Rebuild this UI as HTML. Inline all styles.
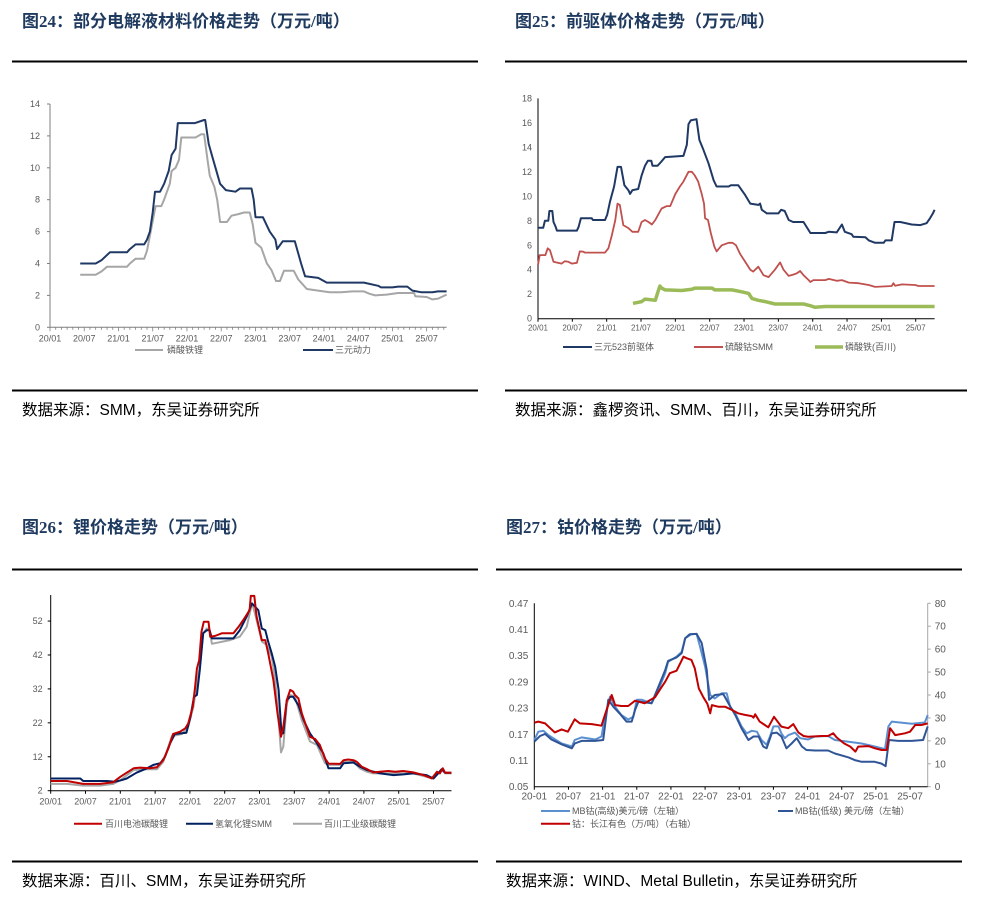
<!DOCTYPE html>
<html><head><meta charset="utf-8">
<style>
body{margin:0;background:#fff;width:987px;height:909px;overflow:hidden;font-family:"Liberation Sans","Noto Sans CJK SC",sans-serif;}
svg{display:block}
.title{font-family:"Liberation Serif","Noto Sans CJK SC",sans-serif;font-weight:bold;font-size:17px;fill:#1f3a5f}
.src{font-size:15.5px;fill:#000}
.tk{font-size:9px;fill:#595959}
.tk2{font-size:10px;fill:#595959}
.lg{font-size:9px;fill:#595959}
</style></head>
<body>
<svg id="s" width="987" height="909" xmlns="http://www.w3.org/2000/svg">
<text class="title" x="22" y="27">图24：部分电解液材料价格走势（万元/吨）</text>
<text class="title" x="515" y="27">图25：前驱体价格走势（万元/吨）</text>
<text class="title" x="22" y="533">图26：锂价格走势（万元/吨）</text>
<text class="title" x="506" y="533">图27：钴价格走势（万元/吨）</text>
<rect x="12" y="60.5" width="466" height="2" fill="#000"/>
<rect x="505" y="60.5" width="462" height="2" fill="#000"/>
<rect x="12" y="389.5" width="466" height="2" fill="#000"/>
<rect x="505" y="389.5" width="462" height="2" fill="#000"/>
<rect x="12" y="568.5" width="466" height="2" fill="#000"/>
<rect x="496" y="568.5" width="466" height="2" fill="#000"/>
<rect x="12" y="860.5" width="466" height="2" fill="#000"/>
<rect x="496" y="860.5" width="466" height="2" fill="#000"/>
<text class="src" x="22" y="415">数据来源：SMM，东吴证券研究所</text>
<text class="src" x="515" y="415">数据来源：鑫椤资讯、SMM、百川，东吴证券研究所</text>
<text class="src" x="22" y="886">数据来源：百川、SMM，东吴证券研究所</text>
<text class="src" x="506" y="886">数据来源：WIND、Metal Bulletin，东吴证券研究所</text>
</svg>
<script>
// ---- shared x-axis labels ----
const dateTicks = ["20/01","20/07","21/01","21/07","22/01","22/07","23/01","23/07","24/01","24/07","25/01","25/07"];
const dateTicksDash = ["20-01","20-07","21-01","21-07","22-01","22-07","23-01","23-07","24-01","24-07","25-01","25-07"];
// ---- chart 24 ----
const c24Ticks = [0,2,4,6,8,10,12,14];
const c24NcmT = [5.3,8,9,10.5,13.5,14,15,16.5,17,17.5,18,18.4,19.3,20,20.8,21.3,22,22.4,25.4,27,27.2,27.8,28.6,29.8,30.8,32.5,33.3,35.3,35.7,36,37.3,38.5,39.5,39.8,40.8,42.9,44,44.7,47,48.5,52,55,57.5,58,60,61,62.6,63.5,65,67,68,69.5];
const c24NcmV = [4.0,4.0,4.2,4.7,4.7,4.9,5.2,5.2,5.5,6.0,7.2,8.5,8.5,9.0,9.8,10.8,11.2,12.8,12.8,13,13,11.5,10.5,9.0,8.6,8.5,8.7,8.7,8.0,6.9,6.9,6.0,5.5,4.9,5.4,5.4,4.0,3.2,3.1,2.8,2.8,2.8,2.6,2.5,2.5,2.55,2.55,2.3,2.2,2.2,2.25,2.25];
const c24LfpT = [5.3,8,9,10,13.5,14,15,16.5,17,17.8,18.5,19.5,20,21,21.3,22,22.6,23,25.5,26.5,27,27.6,28,28.8,29.3,29.8,31,31.8,33,34,35,35.5,36,37,38,38.8,39.6,40.3,41,42.7,43.5,44,45,47,49,51,53,55,56,57,59,61,63.8,64,66,67,68,69.5];
const c24LfpV = [3.3,3.3,3.5,3.8,3.8,4.0,4.3,4.3,4.8,6.3,7.6,7.6,8.0,9.0,9.8,10,10.5,11.9,11.9,12.1,12.1,10.5,9.5,8.8,8.0,6.6,6.6,7.0,7.1,7.2,7.2,6.5,5.3,5.0,4.0,3.6,2.9,2.9,3.55,3.55,3.0,2.8,2.4,2.3,2.2,2.2,2.25,2.25,2.1,2.0,2.05,2.15,2.15,1.95,1.9,1.75,1.8,2.05];
// ---- chart 25 ----
const c25Ticks = [0,2,4,6,8,10,12,14,16,18];
const c25NcmT = [0,0.9,1.2,1.8,2.0,2.5,2.7,3.1,3.3,6.8,7.1,7.5,9.4,9.6,11.7,12.1,12.6,13.3,13.9,14.5,15.1,15.8,16.1,16.5,17.5,18.1,18.7,19.2,19.8,20,20.9,21.5,22.2,25.4,26,26.3,26.7,27.7,28.2,28.9,29.8,30.7,31.2,33.3,33.7,35,36.2,37.1,38.5,38.8,39.1,40,42,42.5,43.1,43.8,44.6,46.4,47.6,50.2,50.8,52.2,53.1,53.6,54.8,55.1,57.2,57.8,58.9,60.4,60.7,61.8,62.3,63.3,65.3,66.8,67.9,68.5,69,69.3];
const c25NcmV = [7.43,7.43,8.0,8.0,8.8,8.8,7.9,7.5,7.2,7.2,7.5,8.2,8.2,8.06,8.06,8.5,9.6,10.8,12.4,12.4,10.9,10.5,10.2,10.5,10.6,11.7,12.5,12.9,12.9,12.5,12.5,12.8,13.2,13.3,14.2,15.9,16.2,16.3,14.6,13.8,12.7,11.3,10.8,10.8,10.9,10.9,10.1,9.4,9.3,9.4,8.9,8.6,8.6,8.9,8.8,8.06,7.9,7.9,7.0,7.0,7.1,7.05,7.7,7.1,6.9,6.7,6.65,6.4,6.2,6.2,6.4,6.4,7.9,7.9,7.7,7.65,7.8,8.2,8.6,8.9];
const c25CoT = [0,0.3,1.3,1.7,2.1,2.7,4.1,4.7,5.3,5.9,6.8,7.3,7.9,8.2,11.7,12.3,12.9,13.5,13.9,14.3,14.9,15.8,16.5,17.5,18.1,18.7,19.3,19.9,20.5,21,21.6,22.5,23.1,24,24.8,25.4,26.3,26.9,27.4,28,28.6,29,29.2,29.7,30.2,30.8,31.2,32.1,33.3,34,34.6,35.3,36.2,37.1,37.6,38.5,39.4,40.3,41.4,42.3,42.9,43.8,44.6,45.2,45.8,46.4,47.3,47.6,48.1,50.2,50.8,52.2,53.1,54.3,56,57.8,58.9,61.8,62.1,62.4,63.6,65.9,66.5,69.3];
const c25CoV = [4.4,5.2,5.2,5.75,5.6,4.65,4.5,4.7,4.65,4.5,4.57,5.5,5.47,5.4,5.4,5.75,6.8,8.06,9.4,9.3,7.65,7.4,7.1,7.1,7.9,8.06,7.9,7.7,8.06,8.5,9.0,9.2,9.2,10.2,10.8,11.2,12.0,12.0,11.7,11.2,10.2,9.4,8.2,8.06,7.0,5.9,5.5,6.0,6.2,6.2,6.0,5.3,4.65,4.0,3.85,4.25,3.55,3.4,4.0,4.6,4.0,3.5,3.6,3.7,3.9,3.55,3.15,3.0,3.15,3.15,3.25,3.1,3.15,2.95,2.9,2.75,2.6,2.67,2.9,2.7,2.8,2.75,2.67,2.67];
const c25FeT = [16.6,18.1,18.7,20.5,20.9,21.3,21.6,22.2,25.1,26.9,27.4,30.4,30.9,33.9,35.6,36.8,37.4,38.5,39.7,41.4,46.4,47.8,48.4,50.2,69.3];
const c25FeV = [1.25,1.4,1.6,1.5,2.1,2.67,2.5,2.35,2.3,2.4,2.5,2.5,2.35,2.35,2.2,2.07,1.65,1.5,1.4,1.2,1.2,1.03,0.93,1.0,1.0];
// ---- chart 26 ----
const c26Ticks = [2,12,22,32,42,52];
const c26BatT = [0,2.8,5.6,8.5,10.8,12,13.1,14.3,15.4,17.1,18.3,19.4,20.3,21.1,22.3,23.2,23.7,24.5,24.9,25.2,25.6,26,26.4,27.2,27.5,28.3,29.5,31.5,32.4,33.2,34.3,34.5,35.1,35.5,36.4,37,37.5,38.4,39.1,39.7,40.1,40.7,41.3,41.8,42.1,42.7,43.3,43.9,44.7,45.6,46.4,47.3,47.9,49.9,50.5,51.3,52.2,52.8,53.6,54.5,55.6,56.8,58.2,59.4,60.8,62.5,64.3,65.7,66.6,67.1,67.6,68,69.1];
const c26BatV = [4.85,4.85,4.0,4.0,4.5,6.1,7.3,8.6,8.8,8.6,8.9,11.0,14.5,18.7,19.4,20.4,21.8,26.8,32.6,38.0,40.5,48.9,51.8,51.8,47.4,47.6,48.4,48.4,50.3,52.3,55.2,59.4,59.4,53.3,46.4,46.4,42.5,34.6,24.8,17.9,20.9,28.7,31.7,31.2,30.2,29.2,24.8,21.8,17.9,17.2,15.5,11.5,10.0,9.9,11.0,11.2,11.0,10.5,9.1,8.4,7.4,7.6,7.8,7.6,7.8,7.4,6.6,5.6,7.6,7.1,8.6,7.3,7.3];
const c26OhT = [0,5.1,5.6,9.7,11.1,12.2,13.1,14.8,16.6,17.7,18.9,19.7,20.6,21.4,23.4,24.1,24.7,25.2,25.7,26.3,26.9,27.4,27.8,31.5,32.6,33.8,34.7,35.8,36.4,37,37.5,38.1,38.7,39.3,39.8,40.1,40.7,41.3,41.8,42.7,43.6,44.7,45.9,47,47.9,49.9,50.5,52.2,53.3,54.5,56.8,59.1,60.8,62.5,64.8,66,66.8,67.4,68,69.1];
const c26OhV = [5.6,5.6,4.85,4.85,4.65,5.1,5.6,7.3,8.6,9.6,10.1,12.0,16.0,18.7,19.1,23.8,29.7,30.2,37.6,48.4,49.3,49.3,46.9,46.9,49.3,53.3,57.2,55.2,49.8,49.3,45.9,42.5,38.5,31.7,18.9,18.9,28.7,29.7,29.7,27.2,22.8,18.9,16.0,13.0,8.6,8.6,10.1,10.3,9.1,8.1,7.1,6.6,6.8,7.1,6.6,5.6,7.1,8.3,7.3,7.3];
const c26IndT = [0,2.8,5.6,8.5,10.8,12,14.3,16.6,18.3,19.4,20.9,22.6,23.7,24.6,25.3,25.7,26.3,26.9,27.4,27.8,30.9,32.6,33.8,34.7,35.2,36.4,37.2,38.1,38.7,39.3,39.7,40.1,40.7,41.3,42.1,43.3,44.7,45.9,47.3,47.9,49.9,50.5,52.2,53.3,54.5,55.6,62.5,64.8,66,66.8,67.4,68,69.1];
const c26IndV = [4.0,4.0,3.5,3.5,4.0,5.1,8.1,8.3,8.3,10.5,18.1,18.7,20.9,26.8,34.6,38.7,48.4,49.8,49.5,45.3,46.4,47.4,50.3,57.2,54.3,46.0,45.0,41.5,34.6,22.8,13.3,15.0,27.7,30.2,29.7,22.8,16.5,15.5,10.1,9.6,9.6,10.5,10.5,8.6,7.6,7.1,7.1,6.1,5.6,7.1,8.3,7.1,7.1];
// ---- chart 27 ----
const c27LeftTicks = [0.05,0.11,0.17,0.23,0.29,0.35,0.41,0.47];
const c27RightTicks = [0,10,20,30,40,50,60,70,80];
const c27HiT = [0,0.7,1.6,2.5,4.8,6.6,7.1,8.3,10.7,11.8,12.4,13.3,14.2,15.3,16.5,17.4,18,18.9,20.6,21.8,23,23.5,25,25.9,26.5,27.6,28.5,29.1,30,30.9,31.7,32.9,33.8,34.4,35.3,36.4,37.3,38.2,39.1,39.9,40.8,41.4,42,42.9,43.4,44,44.6,45.8,46.7,48.1,49.3,51.6,52.8,55.2,57.5,59.8,61.6,62.2,62.8,64.2,66.3,68.6,69.1];
const c27HiV = [0.157,0.176,0.178,0.168,0.149,0.142,0.157,0.163,0.158,0.165,0.210,0.256,0.233,0.214,0.204,0.210,0.249,0.249,0.241,0.272,0.310,0.336,0.348,0.359,0.390,0.399,0.400,0.371,0.325,0.260,0.252,0.264,0.264,0.233,0.218,0.188,0.172,0.178,0.176,0.157,0.146,0.165,0.188,0.188,0.172,0.161,0.168,0.174,0.161,0.158,0.165,0.166,0.157,0.153,0.149,0.142,0.136,0.188,0.199,0.197,0.194,0.197,0.214];
const c27LoT = [0,1,1.9,3.0,4.8,6.6,7.1,8.3,10.7,12.1,13,13.9,15.1,16.2,17.1,17.7,18.3,19.4,20.6,21.8,23,23.5,25,25.9,26.5,27.3,28.5,29.4,30.3,30.7,31.7,33.2,34.1,35.3,36.4,37.6,38.5,39.4,40.2,40.8,41.7,42.6,43.4,44.3,45.2,46.1,47,47.8,49.3,51.6,52.8,55.2,56.3,57.5,59.8,61,61.7,62.3,63.9,66.3,68.3,69.1];
const c27LoV = [0.153,0.166,0.171,0.158,0.147,0.138,0.149,0.155,0.155,0.157,0.249,0.233,0.216,0.199,0.199,0.226,0.245,0.243,0.241,0.279,0.317,0.338,0.346,0.356,0.390,0.399,0.400,0.379,0.317,0.249,0.260,0.262,0.241,0.214,0.184,0.157,0.165,0.165,0.142,0.138,0.172,0.174,0.165,0.138,0.149,0.161,0.142,0.134,0.133,0.133,0.126,0.117,0.111,0.107,0.107,0.103,0.097,0.157,0.155,0.155,0.157,0.188];
const c27CjT = [0,0.7,1.9,2.8,3.6,4.8,5.9,7.1,8,10.1,11.8,12.4,13.6,14.2,15.3,16.5,17.7,19.4,21.2,22.1,23,23.8,25,26.2,26.8,27.6,28.2,28.9,29.7,30.4,30.9,31.2,32.3,33.5,34.7,35.8,37,38.2,38.5,38.8,39.6,41.1,42.1,43.4,44.6,45.5,46.4,47.3,48.1,50.5,51.6,52.5,53.1,54.4,55.5,56.4,56.9,58.7,59.9,61,61.9,62.5,63.4,65.1,66,66.9,68,69.1];
const c27CjV = [27.9,28.4,27.6,25.5,23.7,25.0,24.0,29.4,27.6,27.3,26.6,31.3,40.0,35.6,35.2,35.2,37.5,36.4,39.0,42.5,45.8,49.5,50.6,56.7,56.0,55.3,51.6,42.9,39.0,36.1,32.0,35.6,34.9,34.9,33.5,32.0,31.3,30.8,30.1,31.6,28.4,25.9,30.5,26.2,25.5,27.3,23.6,22.1,21.8,22.1,22.1,23.3,21.5,18.9,17.5,15.3,17.5,17.7,16.7,16.0,16.0,25.5,22.5,23.3,24.0,26.9,26.9,27.6];

const NS="http://www.w3.org/2000/svg";
const svg=document.getElementById('s');
function mk(tag,attrs,parent){const e=document.createElementNS(NS,tag);for(const k in attrs)e.setAttribute(k,attrs[k]);(parent||svg).appendChild(e);return e;}
function txt(str,x,y,cls,anchor,parent){const e=mk('text',{x:x,y:y,class:cls,'text-anchor':anchor||'start'},parent);e.textContent=str;return e;}
function line(ts,vs,sx,sy,color,w,g){let d='';for(let i=0;i<ts.length;i++){d+=(i?'L':'M')+sx(ts[i]).toFixed(1)+' '+sy(vs[i]).toFixed(1);}return mk('path',{d:d,fill:'none',stroke:color,'stroke-width':w,'stroke-linejoin':'round'},g);}

// ===== Chart 24 =====
(function(){
 const g=mk('g',{});
 
 
 const x0=50,mx=5.707,y0=327.3,ky=15.95;
 const sx=t=>x0+t*mx, sy=v=>y0-v*ky;
 mk('line',{x1:x0,y1:sy(14),x2:x0,y2:y0,stroke:'#7f7f7f','stroke-width':1},g);
 mk('line',{x1:x0,y1:y0,x2:sx(69.5),y2:y0,stroke:'#7f7f7f','stroke-width':1},g);
 c24Ticks.forEach(v=>{mk('line',{x1:x0-3,y1:sy(v),x2:x0,y2:sy(v),stroke:'#7f7f7f'},g);const e=txt(String(v),x0-10,sy(v)+3,'tk','end',g);});
 for(let m=0;m<=69;m++){mk('line',{x1:sx(m),y1:y0,x2:sx(m),y2:y0+(m%6==0?4:2.5),stroke:'#7f7f7f','stroke-width':0.8},g);}
 dateTicks.forEach((s,i)=>{const e=txt(s,sx(i*6),y0+14,'tk','middle',g);});
 const l1=line(c24LfpT,c24LfpV,sx,sy,'#a6a6a6',2,g);
 
 const l2=line(c24NcmT,c24NcmV,sx,sy,'#1f3864',2,g);
 
 mk('line',{x1:135,y1:350,x2:163,y2:350,stroke:'#a6a6a6','stroke-width':2},g);
 const a=txt('磷酸铁锂',167,353,'lg','start',g);
 mk('line',{x1:303,y1:350,x2:333,y2:350,stroke:'#1f3864','stroke-width':2},g);
 const b=txt('三元动力',335,353,'lg','start',g);
})();

// ===== Chart 25 =====
(function(){
 const g=mk('g',{});
 
 
 const x0=538,mx=5.723,y0=318.7,ky=12.24;
 const sx=t=>x0+t*mx, sy=v=>y0-v*ky;
 mk('line',{x1:x0,y1:sy(18),x2:x0,y2:y0,stroke:'#000','stroke-width':1},g);
 mk('line',{x1:x0,y1:y0,x2:sx(69.3),y2:y0,stroke:'#000','stroke-width':1},g);
 c25Ticks.forEach(v=>{const e=txt(String(v),x0-6,sy(v)+3,'tk','end',g);});
 dateTicks.forEach((s,i)=>{mk('line',{x1:sx(i*6),y1:y0,x2:sx(i*6),y2:y0+3,stroke:'#000'},g);const e=txt(s,sx(i*6),y0+12,'tk','middle',g);e.setAttribute('style','font-size:8px');});
 const a=line(c25FeT,c25FeV,sx,sy,'#9bbb59',3.5,g);
 const b=line(c25CoT,c25CoV,sx,sy,'#c0504d',1.8,g);
 const c=line(c25NcmT,c25NcmV,sx,sy,'#1f3864',2,g);
 mk('line',{x1:563,y1:347,x2:592,y2:347,stroke:'#1f3864','stroke-width':2},g);
 let t=txt('三元523前驱体',594,350,'lg','start',g);
 mk('line',{x1:694,y1:347,x2:723,y2:347,stroke:'#c0504d','stroke-width':2},g);
 t=txt('硫酸钴SMM',725,350,'lg','start',g);
 mk('line',{x1:815,y1:347,x2:843,y2:347,stroke:'#9bbb59','stroke-width':3.5},g);
 t=txt('磷酸铁(百川)',845,350,'lg','start',g);
})();

// ===== Chart 26 =====
(function(){
 const g=mk('g',{});
 
 
 const x0=50.7,mx=5.8,y0=790.7,ky=3.393;
 const sx=t=>x0+t*mx, sy=v=>y0-(v-2)*ky;
 mk('line',{x1:x0,y1:595,x2:x0,y2:y0,stroke:'#000','stroke-width':1},g);
 mk('line',{x1:x0,y1:y0,x2:sx(69.1),y2:y0,stroke:'#000','stroke-width':1},g);
 c26Ticks.forEach(v=>{mk('line',{x1:x0-3,y1:sy(v),x2:x0,y2:sy(v),stroke:'#000'},g);const e=txt(String(v),x0-8,sy(v)+3,'tk','end',g);});
 dateTicks.forEach((s,i)=>{mk('line',{x1:sx(i*6),y1:y0,x2:sx(i*6),y2:y0+3,stroke:'#000'},g);const e=txt(s,sx(i*6),y0+14,'tk','middle',g);});
 const a=line(c26IndT,c26IndV,sx,sy,'#a6a6a6',2,g);
 const b=line(c26OhT,c26OhV,sx,sy,'#002060',2,g);
 const c=line(c26BatT,c26BatV,sx,sy,'#c00000',2,g);
 mk('line',{x1:74,y1:823.7,x2:102,y2:823.7,stroke:'#c00000','stroke-width':2},g);
 let t=txt('百川电池碳酸锂',105,827,'lg','start',g);
 mk('line',{x1:186,y1:823.7,x2:213,y2:823.7,stroke:'#002060','stroke-width':2},g);
 t=txt('氢氧化锂SMM',215,827,'lg','start',g);
 mk('line',{x1:293,y1:823.7,x2:322,y2:823.7,stroke:'#a6a6a6','stroke-width':2},g);
 t=txt('百川工业级碳酸锂',324,827,'lg','start',g);
})();

// ===== Chart 27 =====
(function(){
 const g=mk('g',{});
 
 
 const x0=534.3,mx=5.693,y0=786.7,ytop=603.3,xr=927.7;
 const sx=t=>x0+t*mx, syl=v=>y0-(v-0.05)/0.42*(y0-ytop), syr=v=>y0-v/80*(y0-ytop);
 mk('line',{x1:x0,y1:ytop,x2:x0,y2:y0,stroke:'#000','stroke-width':1},g);
 mk('line',{x1:xr,y1:ytop,x2:xr,y2:y0,stroke:'#a6a6a6','stroke-width':1},g);
 mk('line',{x1:x0,y1:y0,x2:xr,y2:y0,stroke:'#000','stroke-width':1},g);
 c27LeftTicks.forEach(v=>{const e=txt(v.toFixed(2),x0-6,syl(v)+3.5,'tk2','end',g);});
 c27RightTicks.forEach(v=>{mk('line',{x1:xr,y1:syr(v),x2:xr+3,y2:syr(v),stroke:'#a6a6a6'},g);const e=txt(String(v),xr+7,syr(v)+3.5,'tk2','start',g);});
 dateTicksDash.forEach((s,i)=>{mk('line',{x1:sx(i*6),y1:y0,x2:sx(i*6),y2:y0+3,stroke:'#000'},g);const e=txt(s,sx(i*6),y0+13,'tk2','middle',g);});
 const a=line(c27HiT,c27HiV,sx,syl,'#5b8fd0',2,g);
 const b=line(c27LoT,c27LoV,sx,syl,'#2f5597',2,g);
 const c=line(c27CjT,c27CjV,sx,syr,'#c00000',2,g);
 mk('line',{x1:541,y1:811,x2:570,y2:811,stroke:'#5b8fd0','stroke-width':2},g);
 let t=txt('MB钴(高级)美元/磅（左轴）',572,814,'lg','start',g);
 mk('line',{x1:778,y1:811,x2:793,y2:811,stroke:'#2f5597','stroke-width':2},g);
 t=txt('MB钴(低级) 美元/磅（左轴）',795,814,'lg','start',g);
 mk('line',{x1:541,y1:823.7,x2:570,y2:823.7,stroke:'#c00000','stroke-width':2},g);
 t=txt('钴：长江有色（万/吨）（右轴）',572,827,'lg','start',g);
})();
</script>
</body></html>
